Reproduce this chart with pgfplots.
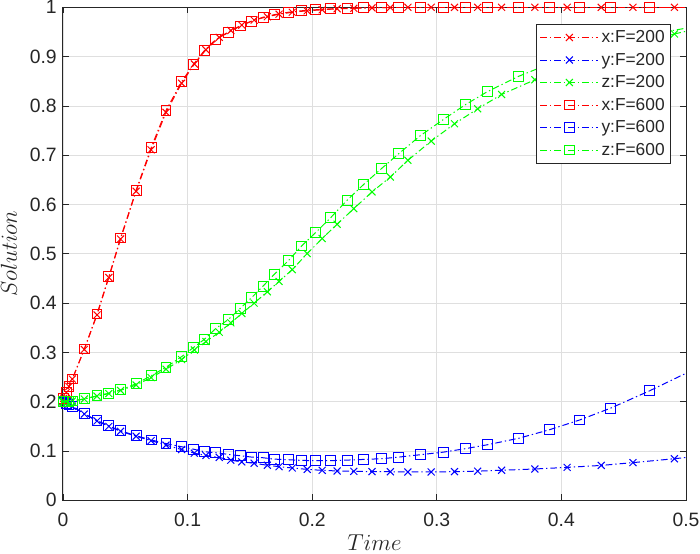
\documentclass[border=0pt]{standalone}
\usepackage{fontspec}
\setmainfont{Liberation Sans}
\usepackage{pgfplots}
\pgfplotsset{compat=1.18}
\usetikzlibrary{calc}
\definecolor{axgray}{HTML}{262626}
\definecolor{gridgray}{HTML}{DFDFDF}
\tikzset{dd/.style={line width=0.75pt, dash pattern=on 5pt off 2.2pt on 1pt off 2.2pt}}

% F=200 (crosses) and F=600 (squares), columns t x y z
\pgfplotstableread{
t x y z
0 0.2 0.2 0.2
0.0006 0.207 0.1995 0.2
0.0027 0.219 0.197 0.2005
0.0048 0.231 0.195 0.201
0.0075 0.246 0.191 0.2015
0.0171 0.306 0.175 0.2055
0.0273 0.376 0.161 0.2115
0.0368 0.452 0.150 0.2165
0.0462 0.530 0.140 0.223
0.0587 0.627 0.130 0.234
0.0707 0.711 0.121 0.249
0.0827 0.787 0.112 0.266
0.0952 0.846 0.103 0.2855
0.1054 0.885 0.0957 0.305
0.1147 0.914 0.0911 0.322
0.1254 0.939 0.087 0.341
0.1347 0.953 0.0815 0.360
0.1435 0.964 0.078 0.379
0.1534 0.974 0.0752 0.400
0.164 0.981 0.0712 0.423
0.1734 0.986 0.0683 0.444
0.184 0.990 0.0656 0.468
0.196 0.993 0.0628 0.5006
0.208 0.995 0.0608 0.531
0.22 0.997 0.0596 0.5601
0.2334 0.998 0.0588 0.5917
0.248 0.999 0.0583 0.6255
0.2627 0.9995 0.058 0.6559
0.2768 1 0.0575 0.6897
0.2955 1 0.0575 0.7287
0.3142 1 0.0582 0.7638
0.3328 1 0.0592 0.7941
0.352 1 0.061 0.8233
0.3787 1 0.0636 0.853
0.4046 1 0.0668 0.878
0.432 1 0.0708 0.902
0.4574 1 0.0765 0.922
0.4907 1 0.0844 0.946
}\fa
\pgfplotstableread{
t x y z
0.4907 1 0.0844 0.946
0.515 1 0.091 0.96
}\fatail
\pgfplotstableread{
t x y z
0 0.2 0.2 0.2
0.0006 0.207 0.1995 0.2
0.0027 0.219 0.197 0.2005
0.0048 0.231 0.195 0.201
0.0075 0.246 0.191 0.2015
0.0171 0.307 0.1755 0.2059
0.0273 0.378 0.162 0.212
0.0368 0.454 0.151 0.2172
0.0462 0.532 0.141 0.224
0.0587 0.629 0.131 0.2365
0.0707 0.715 0.1225 0.2527
0.0827 0.791 0.1152 0.270
0.0952 0.849 0.1087 0.2915
0.1046 0.884 0.1038 0.3097
0.1134 0.912 0.0986 0.3265
0.1227 0.935 0.0966 0.3488
0.1328 0.949 0.0931 0.367
0.1422 0.962 0.0905 0.3893
0.1515 0.972 0.0877 0.4115
0.1606 0.980 0.0864 0.4346
0.1694 0.985 0.0836 0.4581
0.1808 0.990 0.0824 0.4858
0.1915 0.993 0.081 0.516
0.2027 0.995 0.0804 0.543
0.2147 0.997 0.0804 0.573
0.228 0.998 0.0816 0.6087
0.2414 0.999 0.083 0.641
0.2555 0.9995 0.0844 0.6727
0.2694 1 0.0877 0.703
0.2867 1 0.0925 0.7395
0.3054 1 0.0978 0.7727
0.3227 1 0.1047 0.8022
0.3408 1 0.1128 0.8293
0.3659 1 0.126 0.8603
0.3902 1 0.143 0.885
0.4147 1 0.163 0.907
0.4395 1 0.187 0.926
0.4707 1 0.222 0.945
}\fb
\pgfplotstableread{
t x y z
0.4707 1 0.222 0.945
0.51 1 0.27 0.962
}\fbtail

\begin{document}
\begin{tikzpicture}
\begin{axis}[
    width=467.25pt, height=369.75pt, scale only axis,
    xmin=0, xmax=0.5, ymin=0, ymax=1,
    xtick={0,0.1,0.2,0.3,0.4,0.5},
    ytick={0,0.1,0.2,0.3,0.4,0.5,0.6,0.7,0.8,0.9,1},
    /pgf/number format/assume math mode=true,
    ticklabel style={font=\fontsize{14.5}{16}\selectfont, text=axgray},
    xticklabel style={yshift=-6.2pt},
    yticklabel style={xshift=-1.2pt},
    tick align=inside,
    major tick length=4.5pt,
    tick style={axgray, line width=0.6pt},
    axis line style={axgray, line width=0.75pt},
    grid=major,
    grid style={gridgray, line width=0.6pt},
    xlabel={$Time$}, ylabel={$Solution$},
    label style={font=\fontsize{16}{18}\selectfont, text=axgray},
    xlabel style={at={(axis description cs:0.5,-0.086)}, anchor=center},
    ylabel style={at={(axis description cs:-0.087,0.5)}, anchor=center},
    mark size=3.7pt,
    legend style={at={(0.976,0.966)}, anchor=north east, draw=axgray, line width=0.6pt,
        fill=white, font=\fontsize{13}{15}\selectfont, text=axgray,
        row sep=2.3pt, inner xsep=2.5pt, inner ysep=2.5pt, cells={anchor=west}},
    legend image code/.code={
        \draw[mark repeat=2, mark phase=2, #1] plot coordinates {(0pt,0pt) (21.75pt,0pt) (43.5pt,0pt)};
    },
]
\addplot[dd, draw=red, mark=x, mark options={solid, draw=red}] table[x=t, y=x] {\fa};
\addplot[dd, draw=blue, mark=x, mark options={solid, draw=blue}] table[x=t, y=y] {\fa};
\addplot[dd, draw=green, mark=x, mark options={solid, draw=green}] table[x=t, y=z] {\fa};
\addplot[dd, draw=red, mark=square, mark options={solid, draw=red}] table[x=t, y=x] {\fb};
\addplot[dd, draw=blue, mark=square, mark options={solid, draw=blue}] table[x=t, y=y] {\fb};
\addplot[dd, draw=green, mark=square, mark options={solid, draw=green}] table[x=t, y=z] {\fb};
\addplot[dd, draw=red, forget plot] table[x=t, y=x] {\fatail};
\addplot[dd, draw=blue, forget plot] table[x=t, y=y] {\fatail};
\addplot[dd, draw=green, forget plot] table[x=t, y=z] {\fatail};
\addplot[dd, draw=red, forget plot] table[x=t, y=x] {\fbtail};
\addplot[dd, draw=blue, forget plot] table[x=t, y=y] {\fbtail};
\addplot[dd, draw=green, forget plot] table[x=t, y=z] {\fbtail};
\legend{x:F=200, y:F=200, z:F=200, x:F=600, y:F=600, z:F=600}
\coordinate (sw) at (rel axis cs:0,0);
\coordinate (ne) at (rel axis cs:1,1);
\end{axis}
\pgfresetboundingbox
\path ($(sw)+(-47.25pt,-39.75pt)$) rectangle ($(ne)+(10.5pt,5.5pt)$);
\end{tikzpicture}
\end{document}
